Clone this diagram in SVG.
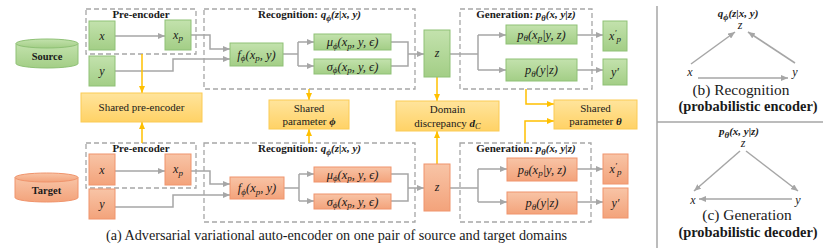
<svg xmlns="http://www.w3.org/2000/svg" width="830" height="251" viewBox="0 0 830 251">
<style>
.g{fill:url(#gG);stroke:#8fc176;stroke-width:1}
.o{fill:url(#gO);stroke:#f0946c;stroke-width:1}
.yl{fill:url(#gY);stroke:#fbcb55;stroke-width:1}
.dash{fill:none;stroke:#a6a6a6;stroke-width:1.3;stroke-dasharray:5 3}
.c{fill:none;stroke:#a6a6a6;stroke-width:1.5}
.ca{fill:none;stroke:#a6a6a6;stroke-width:1.5;marker-end:url(#ag)}
.cy{fill:none;stroke:#ffc000;stroke-width:1.5;marker-end:url(#ay)}
.div{fill:none;stroke:#a6a6a6;stroke-width:1.5}
text{font-family:"Liberation Serif","DejaVu Serif",serif;fill:#1a1a1a;text-anchor:middle}
.m{font-style:italic;font-size:12.5px}
.sm{font-style:italic;font-size:12.5px}
.v{font-style:italic;font-size:12px}
.t{font-weight:bold;font-size:11px}
.ts{font-weight:bold;font-size:10.5px}
.s{font-size:11px}
.cap{font-size:14.2px}
.cap2{font-size:15.4px}
.capb{font-size:14.4px;font-weight:bold}
.bi{font-weight:bold;font-style:italic}
</style>
<defs>
<linearGradient id="gG" x1="0" y1="0" x2="0" y2="1"><stop offset="0" stop-color="#c3e2ad"/><stop offset="1" stop-color="#a3ce86"/></linearGradient>
<linearGradient id="gO" x1="0" y1="0" x2="0" y2="1"><stop offset="0" stop-color="#f8c4a6"/><stop offset="1" stop-color="#f3a37b"/></linearGradient>
<linearGradient id="gY" x1="0" y1="0" x2="0" y2="1"><stop offset="0" stop-color="#ffe49c"/><stop offset="1" stop-color="#ffd266"/></linearGradient>
<marker id="ag" markerUnits="userSpaceOnUse" markerWidth="7" markerHeight="6" refX="7" refY="3" orient="auto"><path d="M0,0 L7,3 L0,6 z" fill="#a6a6a6"/></marker>
<marker id="ay" markerUnits="userSpaceOnUse" markerWidth="7" markerHeight="6" refX="7" refY="3" orient="auto"><path d="M0,0 L7,3 L0,6 z" fill="#ffc000"/></marker>
</defs>

<!-- dashed module frames -->
<g id="frames">
<rect class="dash" x="86" y="9" width="110" height="45"/>
<rect class="dash" x="204" y="9" width="211" height="80"/>
<rect class="dash" x="460" y="9" width="132" height="80"/>
<rect class="dash" x="86" y="143" width="110" height="45"/>
<rect class="dash" x="204" y="143" width="211" height="79"/>
<rect class="dash" x="460" y="143" width="131" height="79"/>
<text class="t" x="141" y="18">Pre-encoder</text>
<text class="t" x="309.5" y="18">Recognition: <tspan class="bi">q</tspan><tspan class="bi" font-size="8.5" dy="2.5">ϕ</tspan><tspan class="bi" dy="-2.5">(z|x, y)</tspan></text>
<text class="t" x="526" y="18">Generation: <tspan class="bi">p</tspan><tspan class="bi" font-size="8.5" dy="2.5">θ</tspan><tspan class="bi" dy="-2.5">(x, y|z)</tspan></text>
<text class="t" x="141" y="152">Pre-encoder</text>
<text class="t" x="309.5" y="152">Recognition: <tspan class="bi">q</tspan><tspan class="bi" font-size="8.5" dy="2.5">ϕ</tspan><tspan class="bi" dy="-2.5">(z|x, y)</tspan></text>
<text class="t" x="526" y="152">Generation: <tspan class="bi">p</tspan><tspan class="bi" font-size="8.5" dy="2.5">θ</tspan><tspan class="bi" dy="-2.5">(x, y|z)</tspan></text>
</g>

<!-- connectors -->
<g id="connectors">
<path class="ca" d="M115,36 H165"/>
<path class="ca" d="M191,35 H210 V49 H230"/>
<path class="ca" d="M115,71 H173 V59 H230"/>
<path class="c" d="M283,54 H298 M298,42 V66"/>
<path class="ca" d="M298,42 H314"/>
<path class="ca" d="M298,66 H314"/>
<path class="c" d="M391,42 H408 V66 H391"/>
<path class="ca" d="M408,54 H424"/>
<path class="c" d="M450,54 H478 M478,35 V70"/>
<path class="ca" d="M478,35 H506"/>
<path class="ca" d="M478,70 H506"/>
<path class="ca" d="M577,35 H603"/>
<path class="ca" d="M577,70 H603"/>
<path class="ca" d="M115,171 H165"/>
<path class="ca" d="M191,171 H210 V184 H230"/>
<path class="ca" d="M115,207 H173 V195 H230"/>
<path class="c" d="M284,188 H299 M299,174 V201"/>
<path class="ca" d="M299,174 H314"/>
<path class="ca" d="M299,201 H314"/>
<path class="c" d="M391,174 H408 V201 H391"/>
<path class="ca" d="M408,188 H424"/>
<path class="c" d="M450,188 H478 M478,169 V202"/>
<path class="ca" d="M478,169 H507"/>
<path class="ca" d="M478,202 H507"/>
<path class="ca" d="M577,169 H603"/>
<path class="ca" d="M577,202 H603"/>
<path class="cy" d="M142,54 V93"/>
<path class="cy" d="M142,143 V122"/>
<path class="cy" d="M309,89 V100"/>
<path class="cy" d="M309,143 V129"/>
<path class="cy" d="M437,77 V101"/>
<path class="cy" d="M437,164 V131"/>
<path class="cy" d="M526,89 V104 H554"/>
<path class="cy" d="M525,143 V121 H554"/>
</g>

<!-- source domain nodes -->
<g id="source">
<path d="M16,43.5 V63.5 A31,4.5 0 0 0 78,63.5 V43.5" class="g"/>
<ellipse cx="47" cy="43.5" rx="31" ry="4.5" class="g"/>
<text class="ts" x="47" y="60">Source</text>
</g>
<g id="src-x"><rect class="g" x="89" y="21" width="26" height="29"/><text class="v" x="102" y="39.5">x</text></g>
<g id="src-xp"><rect class="g" x="165" y="20" width="26" height="30"/><text class="v" x="178" y="38.5">x<tspan font-size="9" dy="2.5">p</tspan></text></g>
<g id="src-y"><rect class="g" x="89" y="56" width="26" height="30"/><text class="v" x="102" y="74.5">y</text></g>
<g id="src-f"><rect class="g" x="230" y="43" width="53" height="23"/><text class="m" x="256.5" y="58.5">f<tspan font-size="9" dy="2.5">ϕ</tspan><tspan dy="-2.5">(x</tspan><tspan font-size="9" dy="2.5">p</tspan><tspan dy="-2.5">, y)</tspan></text></g>
<g id="src-mu"><rect class="g" x="314" y="34" width="77" height="16"/><text class="sm" x="352.5" y="46">μ<tspan font-size="9" dy="2.5">ϕ</tspan><tspan dy="-2.5">(x</tspan><tspan font-size="9" dy="2.5">p</tspan><tspan dy="-2.5">, y, ϵ)</tspan></text></g>
<g id="src-sigma"><rect class="g" x="314" y="59" width="77" height="15"/><text class="sm" x="352.5" y="70.5">σ<tspan font-size="9" dy="2.5">ϕ</tspan><tspan dy="-2.5">(x</tspan><tspan font-size="9" dy="2.5">p</tspan><tspan dy="-2.5">, y, ϵ)</tspan></text></g>
<g id="src-z"><rect class="g" x="424" y="30" width="26" height="47"/><text class="v" x="437" y="57">z</text></g>
<g id="src-pxp"><rect class="g" x="506" y="25" width="71" height="19"/><text class="m" x="541.5" y="38.5">p<tspan font-size="9" dy="2.5">θ</tspan><tspan dy="-2.5">(x</tspan><tspan font-size="9" dy="2.5">p</tspan><tspan dy="-2.5">|y, z)</tspan></text></g>
<g id="src-py"><rect class="g" x="506" y="59" width="71" height="22"/><text class="m" x="541.5" y="74">p<tspan font-size="9" dy="2.5">θ</tspan><tspan dy="-2.5">(y|z)</tspan></text></g>
<g id="src-xpo"><rect class="g" x="603" y="21" width="24" height="30"/><text class="v" x="615" y="39.5">x<tspan font-size="9" dy="-4">′</tspan><tspan font-size="9" dy="6.5">p</tspan></text></g>
<g id="src-yo"><rect class="g" x="603" y="59" width="24" height="26"/><text class="v" x="615" y="76">y′</text></g>

<!-- shared components -->
<g id="shared-pre"><rect class="yl" x="81" y="93" width="121" height="29"/><text class="s" x="141.5" y="111">Shared pre-encoder</text></g>
<g id="shared-phi"><rect class="yl" x="269" y="100" width="80" height="29"/><text class="s" x="309" y="112">Shared</text><text class="s" x="309" y="125">parameter <tspan class="bi">ϕ</tspan></text></g>
<g id="domain"><rect class="yl" x="396" y="101" width="103" height="30"/><text class="s" x="447.5" y="113">Domain</text><text class="s" x="447.5" y="126.5">discrepancy <tspan class="bi">d</tspan><tspan font-style="italic" font-size="8.5" dy="2.5">C</tspan></text></g>
<g id="shared-theta"><rect class="yl" x="554" y="100" width="83" height="29"/><text class="s" x="595.5" y="112">Shared</text><text class="s" x="595.5" y="125">parameter <tspan class="bi">θ</tspan></text></g>

<!-- target domain nodes -->
<g id="target">
<path d="M15,177.5 V197.5 A31.5,4.5 0 0 0 78,197.5 V177.5" class="o"/>
<ellipse cx="46.5" cy="177.5" rx="31.5" ry="4.5" class="o"/>
<text class="ts" x="46.5" y="194">Target</text>
</g>
<g id="tgt-x"><rect class="o" x="89" y="154" width="26" height="31"/><text class="v" x="102" y="173.5">x</text></g>
<g id="tgt-xp"><rect class="o" x="165" y="154" width="26" height="31"/><text class="v" x="178" y="173">x<tspan font-size="9" dy="2.5">p</tspan></text></g>
<g id="tgt-y"><rect class="o" x="89" y="189" width="26" height="30"/><text class="v" x="102" y="208">y</text></g>
<g id="tgt-f"><rect class="o" x="230" y="177" width="54" height="22"/><text class="m" x="257" y="192">f<tspan font-size="9" dy="2.5">ϕ</tspan><tspan dy="-2.5">(x</tspan><tspan font-size="9" dy="2.5">p</tspan><tspan dy="-2.5">, y)</tspan></text></g>
<g id="tgt-mu"><rect class="o" x="314" y="167" width="77" height="15"/><text class="sm" x="352.5" y="178.5">μ<tspan font-size="9" dy="2.5">ϕ</tspan><tspan dy="-2.5">(x</tspan><tspan font-size="9" dy="2.5">p</tspan><tspan dy="-2.5">, y, ϵ)</tspan></text></g>
<g id="tgt-sigma"><rect class="o" x="314" y="194" width="77" height="15"/><text class="sm" x="352.5" y="205.5">σ<tspan font-size="9" dy="2.5">ϕ</tspan><tspan dy="-2.5">(x</tspan><tspan font-size="9" dy="2.5">p</tspan><tspan dy="-2.5">, y, ϵ)</tspan></text></g>
<g id="tgt-z"><rect class="o" x="424" y="164" width="26" height="47"/><text class="v" x="437" y="191">z</text></g>
<g id="tgt-pxp"><rect class="o" x="507" y="158" width="70" height="23"/><text class="m" x="542" y="173.5">p<tspan font-size="9" dy="2.5">θ</tspan><tspan dy="-2.5">(x</tspan><tspan font-size="9" dy="2.5">p</tspan><tspan dy="-2.5">|y, z)</tspan></text></g>
<g id="tgt-py"><rect class="o" x="507" y="192" width="70" height="22"/><text class="m" x="542" y="207">p<tspan font-size="9" dy="2.5">θ</tspan><tspan dy="-2.5">(y|z)</tspan></text></g>
<g id="tgt-xpo"><rect class="o" x="603" y="154" width="25" height="30"/><text class="v" x="615.5" y="172.5">x<tspan font-size="9" dy="-4">′</tspan><tspan font-size="9" dy="6.5">p</tspan></text></g>
<g id="tgt-yo"><rect class="o" x="603" y="188" width="25" height="30"/><text class="v" x="615.5" y="207">y′</text></g>

<text class="cap" x="336.5" y="240">(a) Adversarial variational auto-encoder on one pair of source and target domains</text>

<!-- right panels -->
<g id="panels">
<path class="div" d="M657,6 V248 M657,122 H823"/>
<text class="t" x="738" y="17" font-size="12"><tspan class="bi">q</tspan><tspan class="bi" font-size="9" dy="2.5">ϕ</tspan><tspan class="bi" dy="-2.5">(z|x, y)</tspan></text>
<text class="v" x="740" y="29" font-size="11">z</text>
<text class="v" x="690" y="76" font-size="11">x</text>
<text class="v" x="795" y="76" font-size="11">y</text>
<path class="ca" d="M691,64 L735,32"/>
<path class="ca" d="M795,63 L748,32"/>
<path class="ca" d="M698,78 H788"/>
<text class="cap2" x="741" y="95">(b) Recognition</text>
<text class="capb" x="748" y="111">(probabilistic encoder)</text>
<text class="t" x="739" y="135" font-size="12"><tspan class="bi">p</tspan><tspan class="bi" font-size="9" dy="2.5">θ</tspan><tspan class="bi" dy="-2.5">(x, y|z)</tspan></text>
<text class="v" x="743" y="147" font-size="11">z</text>
<text class="v" x="693" y="204" font-size="11">x</text>
<text class="v" x="798" y="204" font-size="11">y</text>
<path class="ca" d="M740,151 L694,191"/>
<path class="ca" d="M746,151 L798,191"/>
<path class="ca" d="M792,199 H699"/>
<text class="cap2" x="747" y="220">(c) Generation</text>
<text class="capb" x="748" y="237">(probabilistic decoder)</text>
</g>
</svg>
